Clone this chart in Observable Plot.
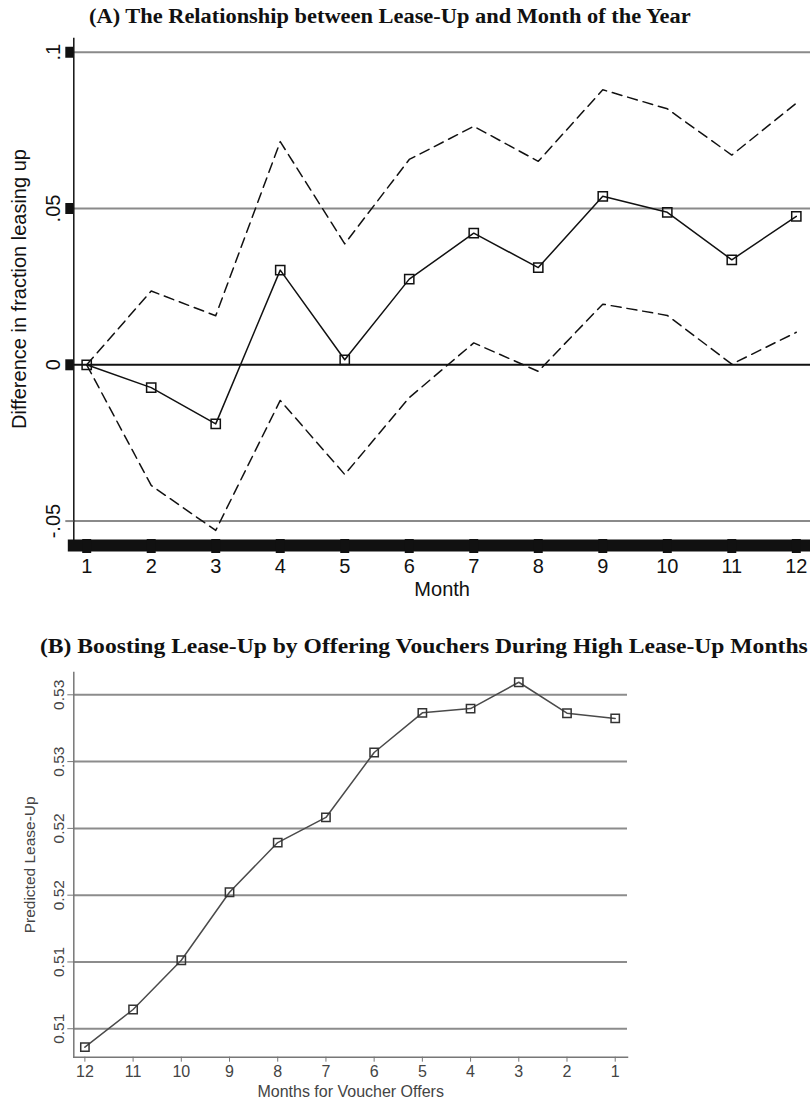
<!DOCTYPE html>
<html><head><meta charset="utf-8">
<script src="https://cdn.jsdelivr.net/npm/d3@7"></script>
<script src="https://cdn.jsdelivr.net/npm/@observablehq/plot@0.6"></script>
<style>
body{margin:0;background:#fff;}
#wrap{position:relative;width:810px;height:1101px;overflow:hidden;background:#fff;}
.ttl{position:absolute;font-family:"Liberation Serif","Times New Roman",serif;font-weight:bold;font-size:20px;line-height:1;white-space:nowrap;color:#111;transform-origin:0 0;}
#pa{position:absolute;left:0;top:30px;}
#pb{position:absolute;left:0;top:660px;}
</style></head><body>
<div id="wrap">
<div class="ttl" id="ta" style="left:89px;top:6px;transform:scaleX(1.12)">(A) The Relationship between Lease-Up and Month of the Year</div>
<div id="pa"></div>
<div class="ttl" id="tb" style="left:40px;top:636px;transform:scaleX(1.18)">(B) Boosting Lease-Up by Offering Vouchers During High Lease-Up Months</div>
<div id="pb"></div>
</div>
<script>
// Panel A data
const months = [1, 2, 3, 4, 5, 6, 7, 8, 9, 10, 11, 12];
const estimate = [0, -0.0073, -0.0189, 0.0303, 0.0016, 0.0274, 0.0421, 0.0311, 0.0539, 0.0488, 0.0336, 0.0475];
const upperCI = [0, 0.0236, 0.0157, 0.0714, 0.0387, 0.0657, 0.0763, 0.0651, 0.0880, 0.0819, 0.0671, 0.0837];
const lowerCI = [0, -0.0386, -0.0530, -0.0114, -0.0351, -0.0105, 0.0070, -0.0021, 0.0194, 0.0158, 0.0002, 0.0104];
const yTicksA = [-0.05, 0, 0.05, 0.1];
const yLabelsA = ["-.05", "0", ".05", ".1"];

// Panel B data
const offerMonths = [12, 11, 10, 9, 8, 7, 6, 5, 4, 3, 2, 1];
const predicted = [0.50862, 0.51144, 0.51513, 0.52022, 0.52394, 0.52582, 0.53068, 0.53365, 0.53397, 0.53594, 0.53362, 0.53323];
const yTicksB = [0.51, 0.515, 0.52, 0.525, 0.53, 0.535];
const yLabelsB = ["0.51", "0.51", "0.52", "0.52", "0.53", "0.53"];

const rowsA = months.map((m, i) => ({month: m, est: estimate[i], hi: upperCI[i], lo: lowerCI[i]}));
const fmtA = new Map(yTicksA.map((v, i) => [v, yLabelsA[i]]));
const sans = "'Liberation Sans', Arial, Helvetica, sans-serif";

const chartA = Plot.plot({
  width: 810, height: 575,
  marginTop: 8, marginBottom: 66, marginLeft: 73.3, marginRight: 0,
  style: {fontFamily: sans, background: "transparent", color: "#111", overflow: "visible"},
  x: {domain: [0.8, 12.22]},
  y: {domain: [-0.0559, 0.1044]},
  marks: [
    Plot.gridY({ticks: yTicksA.filter(v => v !== 0), stroke: "#8a8a8a", strokeOpacity: 1, strokeWidth: 2}),
    Plot.ruleY([0], {stroke: "#111", strokeWidth: 2}),
    Plot.frame({anchor: "left", stroke: "#111", strokeWidth: 1.5}),
    Plot.frame({anchor: "bottom", stroke: "#111", strokeWidth: 12, insetBottom: -6}),
    Plot.axisY({ticks: [-0.05], tickSize: 8, stroke: "#8a8a8a", strokeWidth: 2, tickFormat: () => "", label: null}),
    Plot.axisY({ticks: [0, 0.05, 0.1], tickSize: 8, stroke: "#111", strokeWidth: 11, tickFormat: () => "", label: null}),
    Plot.axisY({ticks: yTicksA, tickSize: 0, tickPadding: 14, tickRotate: -90, tickFormat: d => fmtA.get(d), fontSize: 20,
      label: "Difference in fraction leasing up", labelAnchor: "center", labelOffset: 61.6, labelArrow: "none"}),
    Plot.axisX({ticks: months, tickSize: 14, strokeWidth: 9, stroke: "#111", tickPadding: 5, fontSize: 20,
      label: "Month", labelAnchor: "center", labelOffset: 56, labelArrow: "none"}),
    Plot.line(rowsA, {x: "month", y: "hi", stroke: "#111", strokeWidth: 1.5, strokeDasharray: "10,6"}),
    Plot.line(rowsA, {x: "month", y: "lo", stroke: "#111", strokeWidth: 1.5, strokeDasharray: "10,6"}),
    Plot.line(rowsA, {x: "month", y: "est", stroke: "#111", strokeWidth: 1.5}),
    Plot.dot(rowsA, {x: "month", y: "est", symbol: "square", r: 5.2, stroke: "#111", strokeWidth: 1.5, fill: "none"})
  ]
});
document.getElementById("pa").appendChild(chartA);

const rowsB = offerMonths.map((m, i) => ({month: m, pred: predicted[i]}));
const fmtB = new Map(yTicksB.map((v, i) => [v, yLabelsB[i]]));

const chartB = Plot.plot({
  width: 810, height: 441,
  marginTop: 12, marginBottom: 44.3, marginLeft: 73.3, marginRight: 183,
  style: {fontFamily: sans, background: "transparent", color: "#444", overflow: "visible"},
  x: {domain: [12.23, 0.745]},
  y: {domain: [0.50787, 0.53667]},
  marks: [
    Plot.gridY({ticks: yTicksB, stroke: "#8c8c8c", strokeOpacity: 1, strokeWidth: 2}),
    Plot.frame({anchor: "left", stroke: "#777", strokeWidth: 1.5}),
    Plot.frame({anchor: "bottom", stroke: "#777", strokeWidth: 1.5}),
    Plot.axisY({ticks: yTicksB, tickSize: 6, stroke: "#777", tickPadding: 4, tickRotate: -90, tickFormat: d => fmtB.get(d), fontSize: 15.5,
      label: "Predicted Lease-Up", labelAnchor: "center", labelOffset: 50, labelArrow: "none"}),
    Plot.axisX({ticks: offerMonths, tickSize: 5, stroke: "#777", tickPadding: 3, fontSize: 16,
      label: "Months for Voucher Offers", labelAnchor: "center", labelOffset: 40, labelArrow: "none"}),
    Plot.line(rowsB, {x: "month", y: "pred", stroke: "#4a4a4a", strokeWidth: 1.5}),
    Plot.dot(rowsB, {x: "month", y: "pred", symbol: "square", r: 4.7, stroke: "#333", strokeWidth: 1.5, fill: "none"})
  ]
});
document.getElementById("pb").appendChild(chartB);
</script>
</body></html>
